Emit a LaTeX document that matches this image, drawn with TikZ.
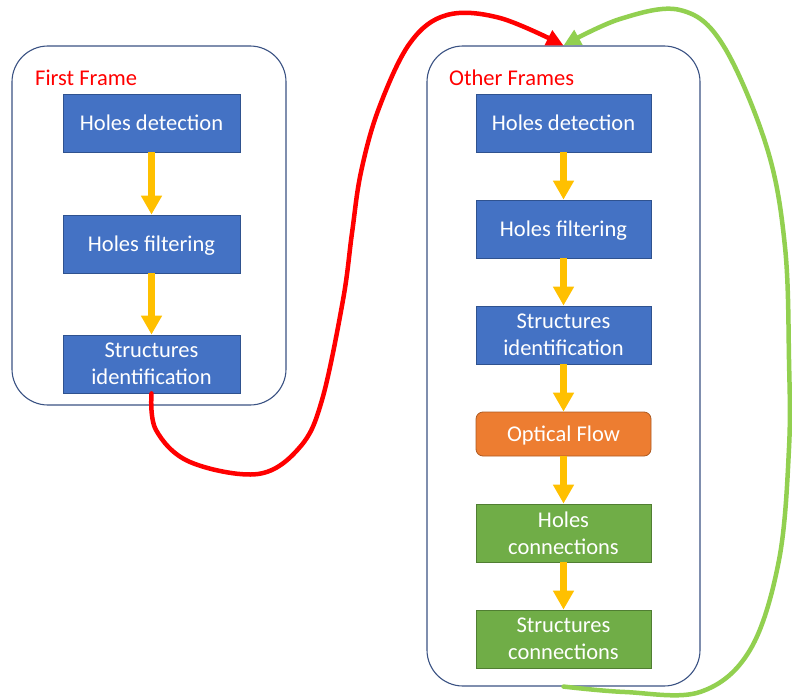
\documentclass[tikz,border=0pt]{standalone}
\usepackage{fontspec}
\setmainfont{Carlito}
\usetikzlibrary{arrows.meta}
\definecolor{bfill}{HTML}{4472C4}
\definecolor{bline}{HTML}{2F528F}
\definecolor{ofill}{HTML}{ED7D31}
\definecolor{oline}{HTML}{AE5A21}
\definecolor{gfill}{HTML}{70AD47}
\definecolor{gline}{HTML}{507E32}
\definecolor{yarr}{HTML}{FFC000}
\definecolor{contline}{HTML}{3A5283}
\definecolor{grn}{HTML}{92D050}
\begin{document}
\begin{tikzpicture}[x=1pt,y=-1pt,
  every node/.style={font=\fontsize{22.5}{27}\selectfont},
  container/.style={draw=contline, line width=1.1pt, rounded corners=36pt, fill=none, inner sep=0pt},
  bluebox/.style={draw=bline, line width=0.8pt, fill=bfill, text=white, minimum width=177pt, minimum height=58pt, inner sep=0pt, align=center},
  orangebox/.style={draw=oline, line width=0.8pt, fill=ofill, text=white, minimum width=175pt, minimum height=44pt, inner sep=0pt, rounded corners=7pt, align=center},
  greenbox/.style={draw=gline, line width=0.8pt, fill=gfill, text=white, minimum width=175pt, minimum height=58pt, inner sep=0pt, align=center},
  oneline/.style={text height=15pt, text depth=0pt},
  title/.style={anchor=west, text=red, inner sep=0pt},
  yellowarrow/.style={draw=yarr, line width=7.5pt, -{Triangle[length=19pt,width=20pt]}},
  curvearrow/.style={line width=4.5pt, line cap=round, -{Triangle[length=17pt,width=16pt]}}
]
\useasboundingbox (0,0) rectangle (792,698);

% containers
\node[container, minimum width=274pt, minimum height=359pt] (L) at (149,225.5) {};
\node[container, minimum width=273pt, minimum height=640pt] (R) at (563.5,366) {};

% titles
\node[title] (t1) at (35,78) {First Frame};
\node[title] (t2) at (449,78) {Other Frames};

% left boxes
\node[bluebox, oneline] (l1) at (151.5,123) {Holes detection};
\node[bluebox, oneline] (l2) at (151.5,244) {Holes filtering};
\node[bluebox] (l3) at (151.5,364) {Structures\\identification};

% right boxes
\node[bluebox, oneline, minimum width=175pt] (r1) at (563.5,123) {Holes detection};
\node[bluebox, oneline, minimum width=175pt] (r2) at (563.5,229) {Holes filtering};
\node[bluebox, minimum width=175pt] (r3) at (563.5,335) {Structures\\identification};
\node[orangebox, oneline] (r4) at (563.5,434) {Optical Flow};
\node[greenbox] (r5) at (563.5,533) {Holes\\connections};
\node[greenbox] (r6) at (563.5,639) {Structures\\connections};

% yellow arrows
\draw[yellowarrow] (l1.south) -- (l2.north);
\draw[yellowarrow] (l2.south) -- (l3.north);
\draw[yellowarrow] (r1.south) -- (r2.north);
\draw[yellowarrow] (r2.south) -- (r3.north);
\draw[yellowarrow] (r3.south) -- (r4.north);
\draw[yellowarrow] (r4.south) -- (r5.north);
\draw[yellowarrow] (r5.south) -- (r6.north);

% red curve
\draw[curvearrow, draw=red, fill=none] plot[smooth, tension=0.6] coordinates {
  (l3.south) (156,430) (190,462) (258,474) (300,447) (322,400) (343,300) (352,233) (361,172) (379,108) (410,43) (447,15) (500,18) (R.north)};

% green curve
\draw[curvearrow, draw=grn, fill=none] plot[smooth, tension=0.6] coordinates {
  (R.south) (625,692) (700,692) (750,650) (779,560) (789,448) (789,360) (785,247) (767,148) (723,45) (680,10) (620,19) (R.north)};
\end{tikzpicture}
\end{document}
